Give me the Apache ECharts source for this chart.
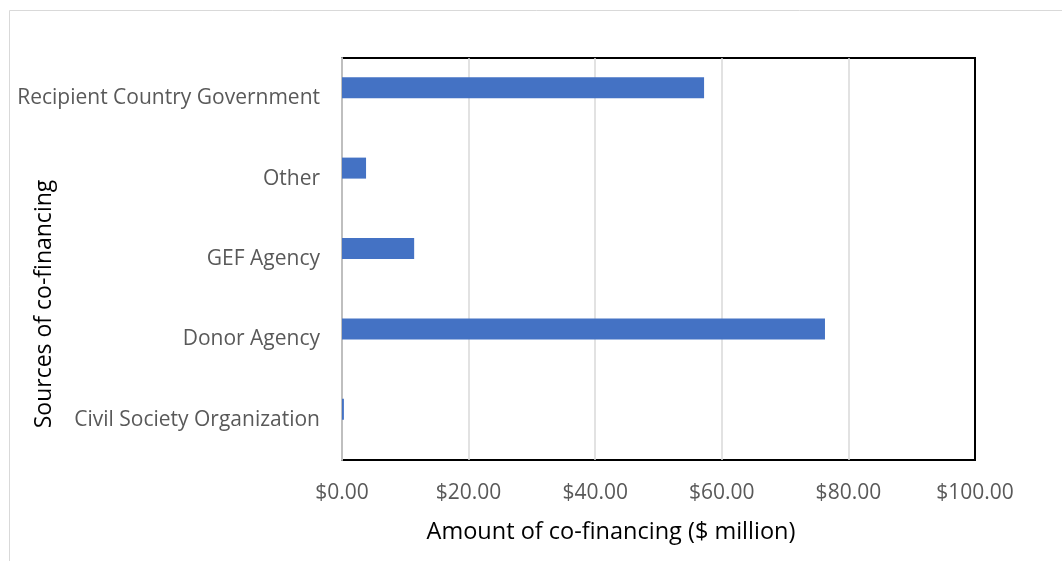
<!DOCTYPE html>
<html>
<head>
<meta charset="utf-8">
<script src="https://cdn.jsdelivr.net/npm/echarts@6/dist/echarts.min.js"></script>
<style>
html,body{margin:0;padding:0;background:#fff;}
#chart{width:1062px;height:561px;}
</style>
</head>
<body>
<div id="chart"></div>
<script>
const categories = ['Civil Society Organization', 'Donor Agency', 'GEF Agency', 'Other', 'Recipient Country Government'];
const amounts = [0.3, 76.3, 11.4, 3.8, 57.2];
const xTicks = { min: 0, max: 100, interval: 20 };
const xTitle = 'Amount of co-financing ($ million)';
const yTitle = 'Sources of co-financing';

const chart = echarts.init(document.getElementById('chart'));
const FONT = '"Open Sans", Lato, sans-serif';
chart.setOption({
  animation: false,
  grid: { left: 342, top: 58, right: 87, bottom: 101, show: true, borderColor: '#000', borderWidth: 2, backgroundColor: 'transparent' },
  xAxis: {
    type: 'value', min: xTicks.min, max: xTicks.max, interval: xTicks.interval,
    axisLine: { show: false }, axisTick: { show: false },
    splitLine: { showMinLine: false, showMaxLine: false, lineStyle: { color: '#d9d9d9', width: 1.5 } },
    axisLabel: { color: '#595959', fontSize: 21, fontFamily: FONT, margin: 23,
      formatter: v => '$' + v.toFixed(2) }
  },
  yAxis: {
    type: 'category', data: categories,
    axisLine: { show: true, lineStyle: { color: '#bfbfbf', width: 2 } },
    axisTick: { show: false },
    axisLabel: { color: '#595959', fontSize: 21, fontFamily: FONT, margin: 22, padding: [4, 0, 0, 0] }
  },
  series: [
    { type: 'bar', data: amounts, barWidth: 21, barGap: '0%', itemStyle: { color: '#4472C4' } },
    { type: 'bar', data: categories.map(() => null), barWidth: 21, barGap: '0%', silent: true }
  ],
  graphic: [
    { type: 'rect', shape: { x: 9.5, y: 10.5, width: 1100, height: 600 }, style: { fill: 'none', stroke: '#d9d9d9', lineWidth: 1 }, silent: true },
    { type: 'text', x: 611, y: 532, style: { text: xTitle, fill: '#000', fontSize: 23.5, fontFamily: FONT, align: 'center', verticalAlign: 'middle' } },
    { type: 'text', x: 44, y: 304, rotation: Math.PI / 2, style: { text: yTitle, fill: '#000', fontSize: 23, fontFamily: FONT, align: 'center', verticalAlign: 'middle' } }
  ]
});
</script>
</body>
</html>
